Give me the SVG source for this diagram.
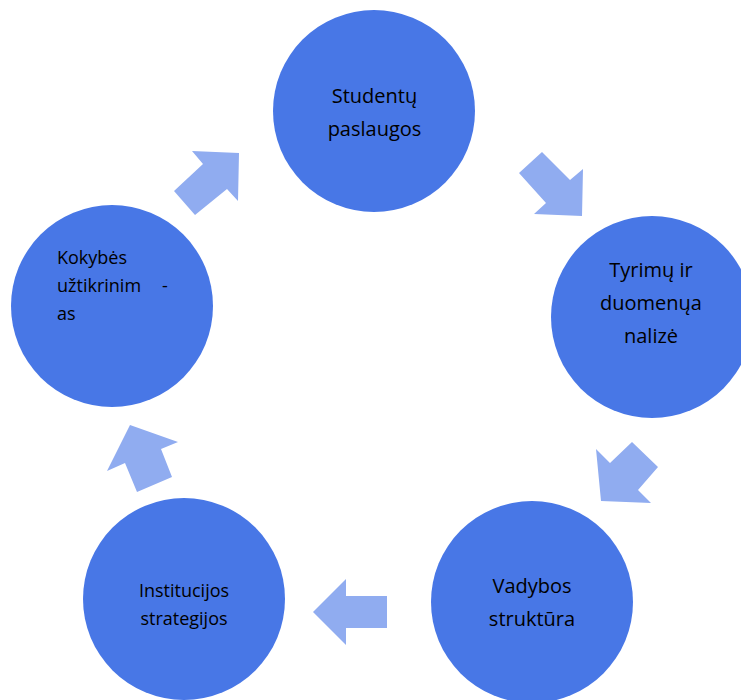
<svg xmlns="http://www.w3.org/2000/svg" width="741" height="700" viewBox="0 0 741 700">
<style>
.node circle{fill:#4877E6}
.arrow{fill:#90ACF0}
text{font-family:"Open Sans","DejaVu Sans",sans-serif;fill:#000}
.big{font-size:20px;text-anchor:middle}
.small{font-size:18px}
.mid{text-anchor:middle}
</style>
<rect width="741" height="700" fill="#fff"/>
<g id="connectors">
<polygon class="arrow" points="239,153 238,201 227,189 195,215 174,191 203,164 192,151"/>
<polygon class="arrow" points="542,152 570,180 583,169 582,216 534,214 546,203 519,173"/>
<polygon class="arrow" points="596,449 610,463 632,442 658,467 638,490 651,503 601,501"/>
<polygon class="arrow" points="313,612 346,579 346,596 387,596 387,628 346,628 346,645"/>
<polygon class="arrow" points="130,425 178,442 161,449 172,477 137,492 125,463 107,471"/>
</g>
<g id="node-studentu" class="node">
<circle cx="374" cy="111" r="101"/>
<text class="big"><tspan x="374.5" y="103">Studentų</tspan><tspan x="374.5" y="136">paslaugos</tspan></text>
</g>
<g id="node-tyrimu" class="node">
<circle cx="652" cy="317" r="101"/>
<text class="big"><tspan x="651" y="277">Tyrimų ir</tspan><tspan x="651" y="310">duomenųa</tspan><tspan x="651" y="343">nalizė</tspan></text>
</g>
<g id="node-vadybos" class="node">
<circle cx="532" cy="602" r="101"/>
<text class="big"><tspan x="532" y="593">Vadybos</tspan><tspan x="532" y="626">struktūra</tspan></text>
</g>
<g id="node-institucijos" class="node">
<circle cx="184" cy="599" r="101"/>
<text class="small mid"><tspan x="184" y="597">Institucijos</tspan><tspan x="184" y="625">strategijos</tspan></text>
</g>
<g id="node-kokybes" class="node">
<circle cx="112" cy="306" r="101"/>
<text class="small"><tspan x="57" y="264">Kokybės</tspan><tspan x="57" y="292">užtikrinim</tspan><tspan x="162" y="292">-</tspan><tspan x="57" y="320">as</tspan></text>
</g>
</svg>
